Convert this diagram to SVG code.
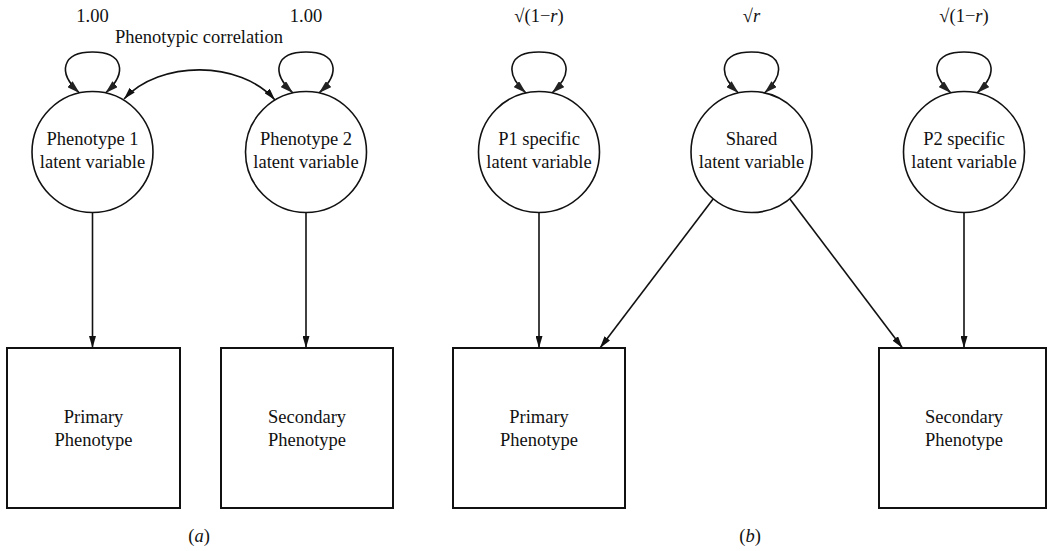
<svg xmlns="http://www.w3.org/2000/svg" width="1047" height="551" viewBox="0 0 1047 551">
<style>
  text{font-family:"Liberation Serif","Times New Roman",serif;font-size:18.5px;fill:#111;text-anchor:middle}
  .lat{fill:#fff;stroke:#111;stroke-width:1.6}
  .obs{fill:#fff;stroke:#111;stroke-width:2}
  .e{fill:none;stroke:#111;stroke-width:1.6}
  .it{font-style:italic}
</style>
<defs>
  <marker id="ah" viewBox="0 0 12 7" refX="12" refY="3.5" markerWidth="12" markerHeight="7" markerUnits="userSpaceOnUse" orient="auto-start-reverse">
    <path d="M0,0 L12,3.5 L0,7 z" fill="#111"/>
  </marker>
  <marker id="lh" viewBox="0 0 13 8" refX="13" refY="4" markerWidth="13" markerHeight="8" markerUnits="userSpaceOnUse" orient="auto-start-reverse">
    <path d="M0,0 L13,4 L0,8 z" fill="#222"/>
  </marker>
</defs>

<g id="connectors">
  <!-- panel a self loops -->
  <path class="e" d="M79.5 93 C56.5 72 62.5 52 92.5 52 C122.5 52 128.5 72 105.5 93" marker-start="url(#lh)" marker-end="url(#lh)"/>
  <path class="e" d="M293 93 C270 72 276 52 306 52 C336 52 342 72 319 93" marker-start="url(#lh)" marker-end="url(#lh)"/>
  <!-- correlation -->
  <path class="e" d="M124 99 C160 60 240 60 275 100" marker-start="url(#ah)" marker-end="url(#ah)"/>
  <!-- panel a loadings -->
  <path class="e" d="M92.5 212.5 L92.5 348" marker-end="url(#ah)"/>
  <path class="e" d="M306 212.5 L306 348" marker-end="url(#ah)"/>
  <!-- panel b self loops -->
  <path class="e" d="M526 93 C503 72 509 52 539 52 C569 52 575 72 552 93" marker-start="url(#lh)" marker-end="url(#lh)"/>
  <path class="e" d="M738.5 93 C715.5 72 721.5 52 751.5 52 C781.5 52 787.5 72 764.5 93" marker-start="url(#lh)" marker-end="url(#lh)"/>
  <path class="e" d="M951 93 C928 72 934 52 964 52 C994 52 1000 72 977 93" marker-start="url(#lh)" marker-end="url(#lh)"/>
  <!-- panel b loadings -->
  <path class="e" d="M539 212.5 L539 348" marker-end="url(#ah)"/>
  <path class="e" d="M713.5 198.5 L600 348" marker-end="url(#ah)"/>
  <path class="e" d="M789.5 198.5 L902.5 348" marker-end="url(#ah)"/>
  <path class="e" d="M964 212.5 L964 348" marker-end="url(#ah)"/>
</g>

<g id="labels">
  <text x="92.5" y="22">1.00</text>
  <text x="306" y="22">1.00</text>
  <text x="199" y="43">Phenotypic correlation</text>
  <text x="539" y="22">√(1−<tspan class="it">r</tspan>)</text>
  <text x="751.5" y="22">√<tspan class="it">r</tspan></text>
  <text x="964" y="22">√(1−<tspan class="it">r</tspan>)</text>
  <text x="199" y="542">(<tspan class="it">a</tspan>)</text>
  <text x="750" y="542">(<tspan class="it">b</tspan>)</text>
</g>

<g id="pheno1_latent">
  <circle class="lat" cx="92.5" cy="152" r="60.5"/>
  <text x="92.5" y="145">Phenotype 1</text>
  <text x="92.5" y="168">latent variable</text>
</g>
<g id="pheno2_latent">
  <circle class="lat" cx="306" cy="152" r="60.5"/>
  <text x="306" y="145">Phenotype 2</text>
  <text x="306" y="168">latent variable</text>
</g>
<g id="primary_a">
  <rect class="obs" x="7" y="348" width="173" height="160"/>
  <text x="93.5" y="423">Primary</text>
  <text x="93.5" y="446">Phenotype</text>
</g>
<g id="secondary_a">
  <rect class="obs" x="221" y="348" width="172" height="160"/>
  <text x="307" y="423">Secondary</text>
  <text x="307" y="446">Phenotype</text>
</g>

<g id="p1_specific">
  <circle class="lat" cx="539" cy="152" r="60.5"/>
  <text x="539" y="145">P1 specific</text>
  <text x="539" y="168">latent variable</text>
</g>
<g id="shared">
  <circle class="lat" cx="751.5" cy="152" r="60.5"/>
  <text x="751.5" y="145">Shared</text>
  <text x="751.5" y="168">latent variable</text>
</g>
<g id="p2_specific">
  <circle class="lat" cx="964" cy="152" r="60.5"/>
  <text x="964" y="145">P2 specific</text>
  <text x="964" y="168">latent variable</text>
</g>
<g id="primary_b">
  <rect class="obs" x="453" y="348" width="172" height="160"/>
  <text x="539" y="423">Primary</text>
  <text x="539" y="446">Phenotype</text>
</g>
<g id="secondary_b">
  <rect class="obs" x="879" y="348" width="167" height="160"/>
  <text x="964" y="423">Secondary</text>
  <text x="964" y="446">Phenotype</text>
</g>
</svg>
